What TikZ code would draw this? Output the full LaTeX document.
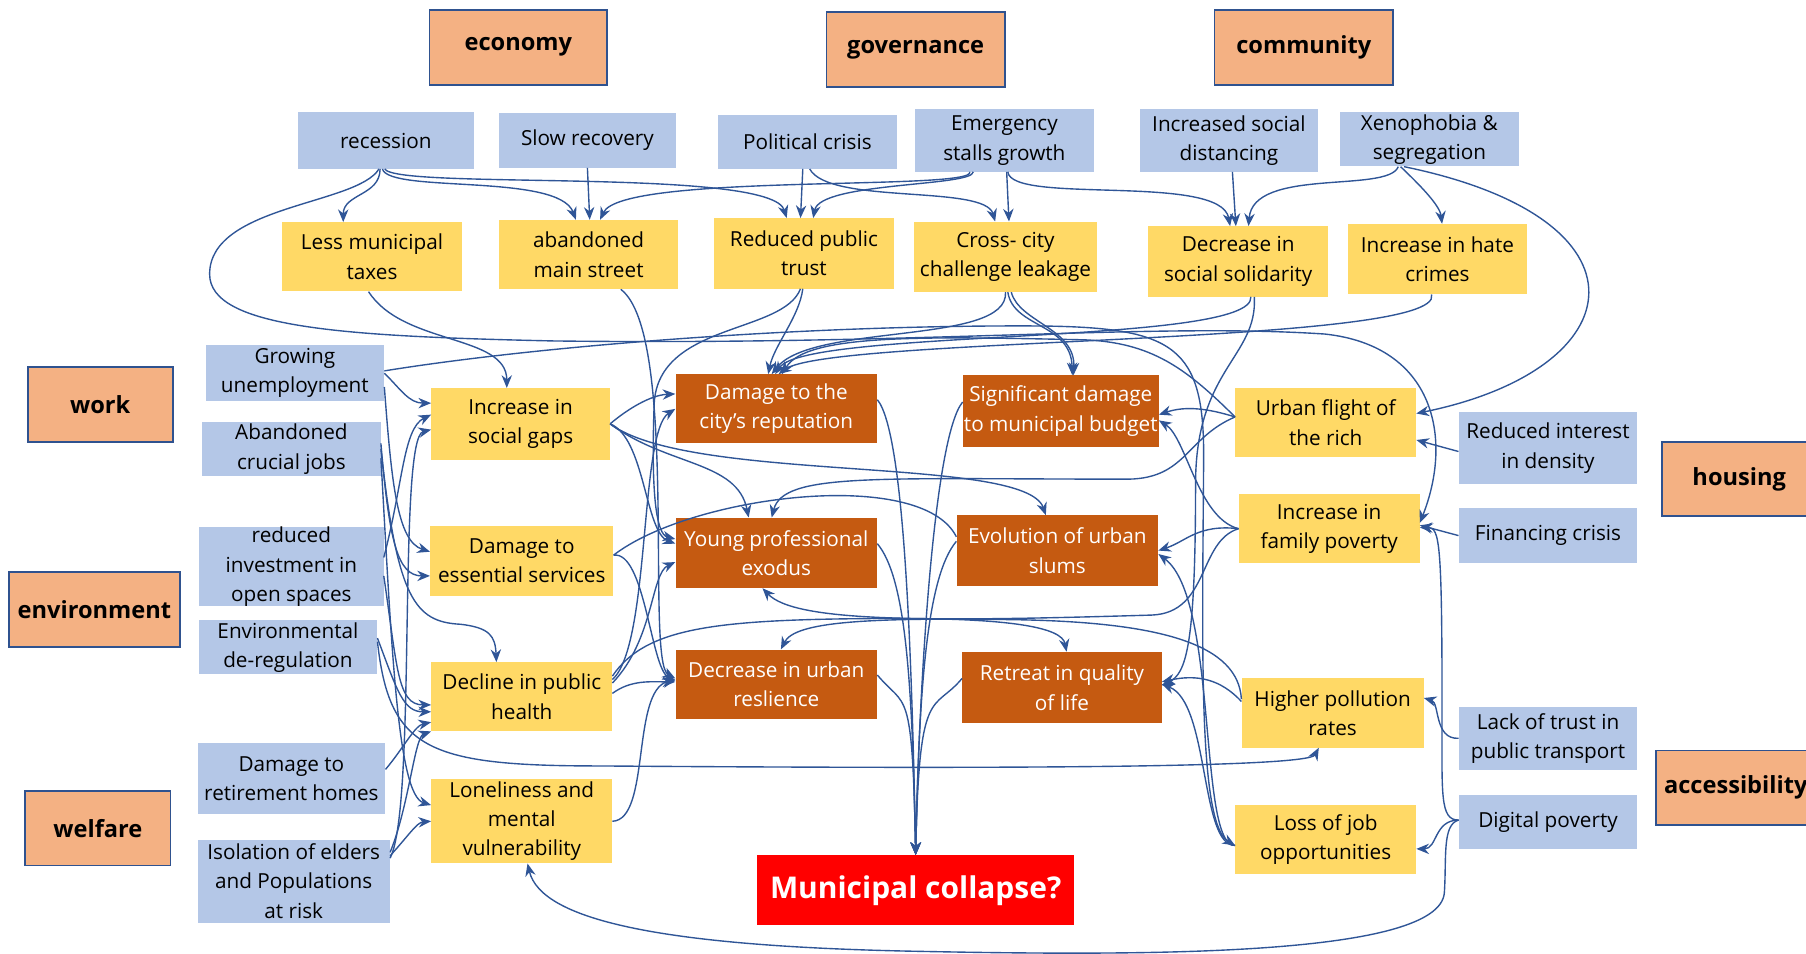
\documentclass[tikz,border=0pt]{standalone}
\usepackage{fontspec}
\setmainfont{Open Sans}
\usetikzlibrary{arrows.meta}

\definecolor{catfill}{HTML}{F4B183}
\definecolor{catline}{HTML}{2F528F}
\definecolor{causefill}{HTML}{B4C7E7}
\definecolor{effectfill}{HTML}{FFD966}
\definecolor{impactfill}{HTML}{C55A11}
\definecolor{arrowline}{HTML}{2F5597}

\tikzset{
  box/.style={rectangle, inner sep=0pt, align=center, font=\fontsize{18}{25.5}\selectfont},
  cat/.style={box, fill=catfill, draw=catline, line width=1.5pt, font=\fontsize{20.5}{24}\selectfont\bfseries},
  cause/.style={box, fill=causefill},
  effect/.style={box, fill=effectfill},
  impact/.style={box, fill=impactfill, text=white},
  collapse/.style={box, fill=red, text=white, font=\fontsize{26}{30}\selectfont\bfseries},
  wh/.style 2 args={minimum width=#1, minimum height=#2},
  link/.style={draw=arrowline, line width=1.2pt},
  arr/.style={link, -{Stealth[length=11pt,width=9pt]}},
}

\begin{document}
\begin{tikzpicture}[x=1pt,y=-1pt]
  \fill[white] (0,0) rectangle (1568,828);
  \useasboundingbox (0,0) rectangle (1568,828);

  % categories
  \node[cat, wh={154}{65}] (eco) at (450,41) {economy};
  \node[cat, wh={155}{65}] (gov) at (795,43) {governance};
  \node[cat, wh={155}{65}] (com) at (1132,41) {community};
  \node[cat, wh={126}{65}] (wrk) at (87,351) {work};
  \node[cat, wh={148}{65}] (env) at (82,529) {environment};
  \node[cat, wh={126}{65}] (wel) at (85,719) {welfare};
  \node[cat, wh={134}{64}] (hou) at (1510,416) {housing};
  \node[cat, wh={138}{65}] (acc) at (1507,684) {accessibility};

  % causes
  \node[cause, wh={153}{49}] (rec) at (335,122) {recession};
  \node[cause, wh={153}{47}] (slo) at (510,122) {Slow recovery};
  \node[cause, wh={156}{47}] (pol) at (701,123) {Political crisis};
  \node[cause, wh={155}{54}] (emg) at (872,122) {Emergency\\stalls growth};
  \node[cause, wh={155}{54}] (dis) at (1067,122) {Increased social\\distancing};
  \node[cause, wh={156}{47}] (xen) at (1241,121) {Xenophobia \&\\segregation};
  \node[cause, wh={155}{49}] (une) at (256,324) {Growing\\unemployment};
  \node[cause, wh={155}{47}] (job) at (253,390) {Abandoned\\crucial jobs};
  \node[cause, wh={160}{68}] (inv) at (253,492) {reduced\\investment in\\open spaces};
  \node[cause, wh={155}{47}] (dereg) at (250,562) {Environmental\\de-regulation};
  \node[cause, wh={163}{62}] (ret) at (253,676) {Damage to\\retirement homes};
  \node[cause, wh={167}{72}] (iso) at (255,765) {Isolation of elders\\and Populations\\at risk};
  \node[cause, wh={155}{62}] (den) at (1344,389) {Reduced interest\\in density};
  \node[cause, wh={155}{48}] (fin) at (1344,465) {Financing crisis};
  \node[cause, wh={155}{55}] (tra) at (1344,641) {Lack of trust in\\public transport};
  \node[cause, wh={155}{47}] (dig) at (1344,714) {Digital poverty};

  % effects
  \node[effect, wh={156}{60}] (tax) at (323,223) {Less municipal\\taxes};
  \node[effect, wh={156}{60}] (mst) at (511,221) {abandoned\\main street};
  \node[effect, wh={157}{61}] (tru) at (698,220) {Reduced public\\trust};
  \node[effect, wh={159}{61}] (crs) at (873,223) {Cross- city\\challenge leakage};
  \node[effect, wh={156}{61}] (sol) at (1075,227) {Decrease in\\social solidarity};
  \node[effect, wh={156}{61}] (hat) at (1248,225) {Increase in hate\\crimes};
  \node[effect, wh={155}{62}] (gap) at (452,368) {Increase in\\social gaps};
  \node[effect, wh={159}{61}] (ess) at (453,487) {Damage to\\essential services};
  \node[effect, wh={157}{60}] (hea) at (453,605) {Decline in public\\health};
  \node[effect, wh={157}{73}] (lon) at (453,713) {Loneliness and\\mental\\vulnerability};
  \node[effect, wh={157}{60}] (fli) at (1151,367) {Urban flight of\\the rich};
  \node[effect, wh={157}{60}] (pov) at (1154,459) {Increase in\\family poverty};
  \node[effect, wh={158}{60}] (plu) at (1157,619) {Higher pollution\\rates};
  \node[effect, wh={157}{60}] (los) at (1151,729) {Loss of job\\opportunities};

  % impacts
  \node[impact, wh={175}{60}] (rep) at (674,355) {Damage to the\\city’s reputation};
  \node[impact, wh={170}{62}] (bud) at (921,357) {Significant damage\\to municipal budget};
  \node[impact, wh={175}{61}] (yng) at (674,480) {Young professional\\exodus};
  \node[impact, wh={175}{61}] (slm) at (918,478) {Evolution of urban\\slums};
  \node[impact, wh={175}{60}] (res) at (674,594) {Decrease in urban\\reslience};
  \node[impact, wh={173}{62}] (qol) at (922,597) {Retreat in quality\\of life};
  \node[collapse, wh={275}{61}] (col) at (795,773) {Municipal collapse?};

  % top row
  \draw[arr] ([xshift=-5]rec.south) .. controls (330,170) and (298,168) .. ([xshift=-25]tax.north);
  \draw[arr] ([xshift=-3]rec.south) .. controls (338,168) and (485,150) .. ([xshift=-11]mst.north);
  \draw[arr] ([xshift=-1]rec.south) .. controls (345,165) and (670,145) .. ([xshift=-15]tru.north);
  \draw[arr] ([xshift=-6]rec.south) .. controls (310,178) and (182,178) .. (182,238) .. controls (182,285) and (300,292) .. (480,296) .. controls (800,300) and (1000,280) .. (1150,290) .. controls (1245,300) and (1262,380) .. ([yshift=5]pov.east);
  \draw[arr] (slo.south) -- ([xshift=1]mst.north);
  \draw[arr] ([xshift=-4]pol.south) -- ([xshift=-3]tru.north);
  \draw[arr] ([xshift=2]pol.south) .. controls (720,178) and (855,160) .. ([xshift=-9]crs.north);
  \draw[arr] ([xshift=-30]emg.south) .. controls (848,166) and (540,150) .. ([xshift=10]mst.north);
  \draw[arr] ([xshift=-27]emg.south) .. controls (845,162) and (712,158) .. ([xshift=8]tru.north);
  \draw[arr] ([xshift=2]emg.south) -- ([xshift=3]crs.north);
  \draw[arr] ([xshift=3]emg.south) .. controls (878,178) and (1060,150) .. ([xshift=-7]sol.north);
  \draw[arr] ([xshift=3]dis.south) -- ([xshift=-2]sol.north);
  \draw[arr] ([xshift=-27]xen.south) .. controls (1205,168) and (1088,145) .. ([xshift=9]sol.north);
  \draw[arr] ([xshift=-25]xen.south) .. controls (1232,160) and (1250,178) .. ([xshift=4]hat.north);
  \draw[arr] ([xshift=-22]xen.south) .. controls (1440,190) and (1420,320) .. ([yshift=8]fli.east);

  % second row
  \draw[arr] ([xshift=-3]tax.south) .. controls (350,300) and (440,290) .. ([xshift=-12]gap.north);
  \draw[arr] ([xshift=28]mst.south) .. controls (590,290) and (560,575) .. ([yshift=5]res.west);
  \draw[arr] ([xshift=-1]tru.south) .. controls (694,275) and (672,300) .. ([xshift=-7]rep.north);
  \draw[arr] ([xshift=-3]tru.south) .. controls (680,290) and (572,280) .. (568,350) .. controls (565,430) and (570,464) .. ([yshift=12]yng.west);
  \draw[arr] (crs.south) .. controls (876,300) and (705,280) .. ([xshift=-4]rep.north);
  \draw[arr] ([xshift=2]crs.south) .. controls (880,285) and (930,280) .. ([xshift=10]bud.north);
  \draw[arr] ([xshift=5]crs.south) .. controls (885,280) and (934,285) .. ([xshift=11]bud.north);
  \draw[arr] ([xshift=11]sol.south) .. controls (1090,300) and (700,285) .. ([xshift=-1]rep.north);
  \draw[arr] ([xshift=14]sol.south) .. controls (1092,310) and (1038,320) .. (1038,420) .. controls (1038,560) and (1030,585) .. ([yshift=2]qol.east);
  \draw[arr] ([xshift=-5]hat.south) .. controls (1255,300) and (720,292) .. ([xshift=2]rep.north);

  % left side
  \draw[arr] (une.east) .. controls (348,338) and (355,350) .. ([yshift=18]gap.west);
  \draw[arr] ([yshift=-12]une.east) .. controls (340,420) and (345,470) .. ([yshift=8]ess.west);
  \draw[arr] ([yshift=2]une.east) .. controls (470,300) and (700,282) .. (900,283) .. controls (1020,284) and (1046,300) .. (1045,400) .. controls (1044,560) and (1040,715) .. ([yshift=-5]los.west);
  \draw[arr] ([yshift=5]job.east) .. controls (338,470) and (345,500) .. ([yshift=-13]ess.west);
  \draw[arr] (job.east) .. controls (345,520) and (360,540) .. (400,542) .. controls (425,545) and (430,552) .. ([xshift=-22]hea.north);
  \draw[arr] ([yshift=-8]job.east) .. controls (340,560) and (345,690) .. ([yshift=14]lon.west);
  \draw[arr] ([yshift=8]inv.east) .. controls (350,420) and (350,372) .. ([yshift=8]gap.west);
  \draw[arr] ([yshift=-8]inv.east) .. controls (345,580) and (345,612) .. ([yshift=-7]hea.west);
  \draw[arr] ([yshift=8]dereg.east) .. controls (345,600) and (350,618) .. ([yshift=-13]hea.west);
  \draw[arr] ([yshift=5]dereg.east) .. controls (338,650) and (370,665) .. (520,665) .. controls (800,667) and (1135,668) .. ([xshift=-12]plu.south);
  \draw[arr] ([yshift=8]ret.east) .. controls (350,650) and (360,630) .. ([yshift=-22]hea.west);
  \draw[arr] ([yshift=25]iso.east) .. controls (355,700) and (360,640) .. ([yshift=-30]hea.west);
  \draw[arr] ([yshift=22]iso.east) .. controls (355,725) and (362,714) .. (lon.west);
  \draw[arr] ([yshift=20]iso.east) .. controls (362,700) and (345,380) .. ([yshift=-5]gap.west);

  % yellow -> impacts
  \draw[arr] (gap.east) .. controls (545,355) and (565,343) .. ([yshift=13]rep.west);
  \draw[arr] (gap.east) .. controls (580,405) and (640,400) .. ([xshift=-24]yng.north);
  \draw[arr] (gap.east) .. controls (600,420) and (890,395) .. ([xshift=-10]slm.north);
  \draw[arr] (gap.east) .. controls (560,380) and (560,462) .. ([yshift=8]yng.west);
  \draw[arr] ([yshift=5]ess.east) .. controls (560,478) and (565,580) .. ([yshift=3]res.west);
  \draw[link] ([yshift=5]ess.east) .. controls (600,430) and (800,405) .. ([yshift=12]slm.west);
  \draw[arr] ([yshift=15]hea.east) .. controls (565,560) and (555,375) .. (rep.west);
  \draw[arr] ([yshift=12]hea.east) .. controls (568,555) and (565,498) .. ([yshift=-8]yng.west);
  \draw[arr] ([yshift=3]hea.east) .. controls (548,590) and (565,592) .. ([yshift=2]res.west);
  \draw[arr] ([yshift=18]hea.east) .. controls (560,545) and (620,538) .. (760,537) .. controls (880,536) and (922,545) .. ([xshift=4]qol.north);
  \draw[arr] (lon.east) .. controls (565,712) and (548,600) .. ([yshift=4]res.west);

  % right side
  \draw[arr] ([yshift=5]fli.west) .. controls (1030,320) and (1000,297) .. (940,295) .. controls (800,292) and (700,290) .. ([xshift=5]rep.north);
  \draw[arr] ([yshift=5]fli.west) .. controls (1050,355) and (1030,352) .. ([yshift=-3]bud.east);
  \draw[arr] ([yshift=5]fli.west) .. controls (1030,380) and (1030,415) .. (980,416) .. controls (760,416) and (680,410) .. ([xshift=-4]yng.north);
  \draw[arr] (pov.west) .. controls (1040,470) and (1050,532) .. (1000,534) .. controls (800,540) and (690,540) .. ([xshift=-12]yng.south);
  \draw[arr] (pov.west) .. controls (1040,455) and (1030,470) .. (slm.east);
  \draw[arr] (pov.west) .. controls (1040,450) and (1030,380) .. ([yshift=-8]bud.east);
  \draw[arr] ([yshift=10]plu.west) .. controls (1060,590) and (1040,585) .. ([yshift=5]qol.east);
  \draw[arr] ([yshift=12]plu.west) .. controls (1075,560) and (1010,540) .. (880,538) .. controls (750,536) and (690,540) .. ([xshift=4]res.north);
  \draw[arr] ([yshift=-5]los.west) .. controls (1042,735) and (1050,610) .. ([yshift=3]qol.east);
  \draw[arr] ([yshift=-5]los.west) .. controls (1040,735) and (1058,520) .. ([yshift=-3]slm.east);
  \draw[arr] ([yshift=-3]den.west) -- ([yshift=-15]fli.east);
  \draw[arr] (fin.west) -- ([yshift=3]pov.east);
  \draw[arr] ([yshift=2]dig.west) .. controls (1250,712) and (1252,690) .. (1252,620) .. controls (1252,470) and (1250,458) .. ([yshift=1]pov.east);
  \draw[arr] ([yshift=2]dig.west) .. controls (1245,712) and (1248,737) .. ([yshift=-8]los.east);
  \draw[arr] ([yshift=2]dig.west) .. controls (1252,716) and (1256,745) .. (1254,775) .. controls (1250,830) and (1000,830) .. (800,826) .. controls (580,822) and (470,800) .. ([xshift=5]lon.south);
  \draw[arr] (tra.west) .. controls (1245,642) and (1250,610) .. ([yshift=13]plu.east);

  % into the collapse
  \foreach \s in {rep,yng,res} \draw[arr] ([yshift=8]\s.east) .. controls +(25,30) and +(-3,-150) .. (col.north);
  \foreach \s in {bud,slm,qol} \draw[arr] ([yshift=8]\s.west) .. controls +(-25,30) and +(3,-150) .. (col.north);
\end{tikzpicture}
\end{document}
